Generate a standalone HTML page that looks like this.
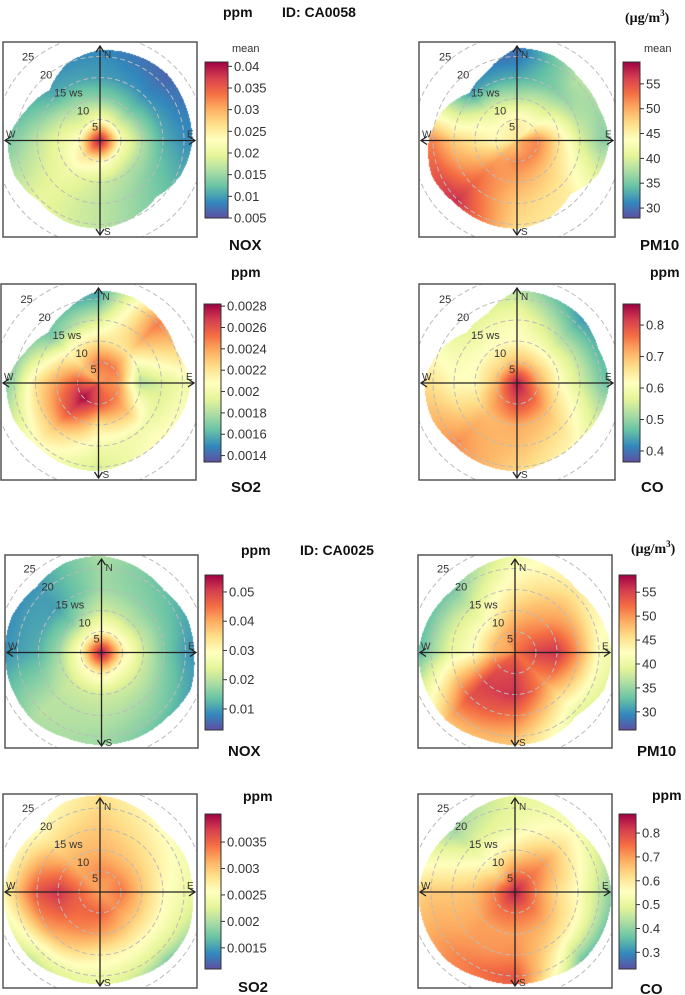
<!DOCTYPE html>
<html><head><meta charset="utf-8">
<style>
html,body{margin:0;padding:0;background:#fff;}
#wrap{position:relative;width:685px;height:995px;overflow:hidden;font-family:"Liberation Sans",sans-serif;}
canvas{position:absolute;}
svg{position:absolute;left:0;top:0;}
</style></head>
<body>
<div id="wrap">
<svg id="ov" width="685" height="995"></svg>
</div>
<script>
// direction order: N, NE, E, SE, S, SW, W, NW ; speed order: 0,5,10,15,20,25 ws
const speeds = [0,5,10,15,20,25];
const noxA = [
 [0.04,0.022,0.014,0.010,0.009,0.008],
 [0.04,0.020,0.013,0.009,0.007,0.006],
 [0.04,0.022,0.016,0.011,0.009,0.009],
 [0.04,0.022,0.016,0.014,0.013,0.013],
 [0.04,0.024,0.018,0.017,0.017,0.017],
 [0.04,0.026,0.021,0.020,0.020,0.020],
 [0.04,0.023,0.020,0.017,0.014,0.012],
 [0.04,0.020,0.016,0.011,0.009,0.008]];
const pm10A = [
 [46,45,38,33,30,30],[46,44,40,36,38,40],[50,52,46,40,36,36],[50,52,48,46,45,44],
 [48,52,50,48,47,46],[48,50,52,54,57,56],[46,44,46,48,52,52],[46,44,40,33,30,30]];
const so2A = [
 [0.0024,0.0025,0.0022,0.0019,0.0016,0.0015],
 [0.0024,0.0025,0.0022,0.0024,0.0025,0.0023],
 [0.0025,0.0024,0.0018,0.0019,0.0020,0.0020],
 [0.0025,0.0025,0.0023,0.0020,0.0021,0.0021],
 [0.0026,0.0026,0.0022,0.0020,0.0019,0.0019],
 [0.0026,0.0028,0.0026,0.0023,0.0021,0.0021],
 [0.0025,0.0026,0.0024,0.0022,0.0018,0.0015],
 [0.0024,0.0023,0.0021,0.0017,0.0016,0.0017]];
const coA = [
 [0.85,0.70,0.62,0.60,0.55,0.50],[0.85,0.70,0.60,0.52,0.45,0.40],
 [0.85,0.72,0.62,0.55,0.48,0.45],[0.85,0.78,0.70,0.66,0.62,0.60],
 [0.85,0.80,0.72,0.70,0.68,0.66],[0.85,0.75,0.70,0.72,0.74,0.74],
 [0.85,0.70,0.62,0.62,0.66,0.68],[0.85,0.68,0.62,0.58,0.55,0.52]];
const noxB = [
 [0.055,0.030,0.022,0.018,0.018,0.020],[0.055,0.030,0.020,0.016,0.014,0.012],
 [0.055,0.032,0.022,0.015,0.010,0.008],[0.055,0.030,0.022,0.018,0.015,0.010],
 [0.055,0.032,0.022,0.020,0.018,0.018],[0.055,0.030,0.022,0.020,0.020,0.018],
 [0.055,0.030,0.018,0.012,0.010,0.008],[0.055,0.028,0.015,0.010,0.010,0.008]];
const pm10B = [
 [52,50,47,44,42,40],[52,52,50,48,45,44],[52,55,56,50,42,40],[52,52,50,45,40,36],
 [53,55,56,52,48,46],[52,54,55,54,50,46],[50,48,42,40,35,30],[50,48,42,38,34,32]];
const so2B = [
 [0.0032,0.0033,0.0031,0.0030,0.0029,0.0028],[0.0032,0.0033,0.0030,0.0028,0.0026,0.0024],
 [0.0032,0.0034,0.0030,0.0026,0.0024,0.0023],[0.0032,0.0033,0.0030,0.0026,0.0022,0.0015],
 [0.0032,0.0035,0.0032,0.0027,0.0024,0.0023],[0.0032,0.0035,0.0034,0.0031,0.0024,0.0019],
 [0.0032,0.0035,0.0038,0.0036,0.0030,0.0024],[0.0032,0.0032,0.0031,0.0029,0.0026,0.0024]];
const coB = [
 [0.85,0.72,0.60,0.52,0.50,0.50],[0.85,0.75,0.70,0.62,0.55,0.50],
 [0.85,0.72,0.62,0.55,0.45,0.35],[0.85,0.75,0.68,0.60,0.45,0.30],
 [0.85,0.75,0.70,0.72,0.78,0.75],[0.85,0.75,0.70,0.70,0.72,0.72],
 [0.85,0.72,0.66,0.65,0.65,0.62],[0.85,0.65,0.55,0.48,0.42,0.38]];
// data extents (max ws) per 16 directions from N clockwise
const extA1 = [21.5,22,22.5,22,22,21,19,20,21,21,20.5,22,22,19,17,20];
const extA2 = [22,22,21,21,22,21,18,20,21,21,21,22,21,19,16,18];
const extA3 = [22,22,21,20,22,21,20,20,21,21,21,22,22,19,17,19];
const extA4 = [22,22,22,21,22,21,20,20,21,21,21,22,22,20,17,18];
const extB1 = [23,22,21,22,22,23,22,22,22,22,23,23,23,23,22,23];
const extB2 = [23,22,21,22,23,23,21,22,22,22,23,23,23,22,21,22];
const extB3 = [23,22,21,22,22,23,23,22,22,22,23,23,23,22,21,23];
const extB4 = [23,22,21,22,23,23,23,22,22,22,23,23,23,22,21,22];
// colorbar tick labels
const ticksNoxA = ['0.04','0.035','0.03','0.025','0.02','0.015','0.01','0.005'];
const ticksPm10 = ['55','50','45','40','35','30'];
const ticksSo2A = ['0.0028','0.0026','0.0024','0.0022','0.002','0.0018','0.0016','0.0014'];
const ticksCoA = ['0.8','0.7','0.6','0.5','0.4'];
const ticksNoxB = ['0.05','0.04','0.03','0.02','0.01'];
const ticksSo2B = ['0.0035','0.003','0.0025','0.002','0.0015'];
const ticksCoB = ['0.8','0.7','0.6','0.5','0.4','0.3'];
// colorbar ranges [min,max]
const rangeNoxA=[0.005,0.041], rangePm10A=[28,59.4], rangeSo2A=[0.00134,0.00282], rangeCoA=[0.365,0.867];
const rangeNoxB=[0.0028,0.0558], rangePm10B=[26.2,58.6], rangeSo2B=[0.0011,0.00403], rangeCoB=[0.23,0.88];

const panels = [
 {name:'nox-ca0058', vals:noxA, ext:extA1, ticks:ticksNoxA, range:rangeNoxA, box:[3,42,194,195], cb:[205,62,23,156], label:'NOX', lx:229, ly:250, mean:true},
 {name:'pm10-ca0058', vals:pm10A, ext:extA2, ticks:ticksPm10, range:rangePm10A, box:[419,42,196,195], cb:[623,62,17,156], label:'PM10', lx:640, ly:250, mean:true},
 {name:'so2-ca0058', vals:so2A, ext:extA3, ticks:ticksSo2A, range:rangeSo2A, box:[1,284,195,196], cb:[204,304,17,158], label:'SO2', lx:231, ly:492},
 {name:'co-ca0058', vals:coA, ext:extA4, ticks:ticksCoA, range:rangeCoA, box:[419,284,196,196], cb:[623,304,17,158], label:'CO', lx:641, ly:492},
 {name:'nox-ca0025', vals:noxB, ext:extB1, ticks:ticksNoxB, range:rangeNoxB, box:[5,555,193,193], cb:[205,575,18,155], label:'NOX', lx:228, ly:756},
 {name:'pm10-ca0025', vals:pm10B, ext:extB2, ticks:ticksPm10, range:rangePm10B, box:[418,555,194,193], cb:[619,575,17,155], label:'PM10', lx:637, ly:756},
 {name:'so2-ca0025', vals:so2B, ext:extB3, ticks:ticksSo2B, range:rangeSo2B, box:[3,794,194,194], cb:[205,814,16,155], label:'SO2', lx:238, ly:992},
 {name:'co-ca0025', vals:coB, ext:extB4, ticks:ticksCoB, range:rangeCoB, box:[418,794,194,194], cb:[619,814,17,155], label:'CO', lx:640, ly:994}
];
const SC = 4.2; // px per ws unit
const stops = ['#5E4FA2','#3288BD','#66C2A5','#ABDDA4','#E6F598','#FFFFBF','#FEE08B','#FDAE61','#F46D43','#D53E4F','#9E0142'];
const stopRGB = stops.map(h=>[parseInt(h.substr(1,2),16),parseInt(h.substr(3,2),16),parseInt(h.substr(5,2),16)]);
function cmap(t){t=Math.max(0,Math.min(1,t));const a=t*10,i=Math.min(9,Math.floor(a)),f=a-i;const c0=stopRGB[i],c1=stopRGB[i+1];return [c0[0]+(c1[0]-c0[0])*f,c0[1]+(c1[1]-c0[1])*f,c0[2]+(c1[2]-c0[2])*f];}
const wrap=document.getElementById('wrap'), ov=document.getElementById('ov');
const NS='http://www.w3.org/2000/svg';
function mk(tag,attrs,parent){const e=document.createElementNS(NS,tag);for(const k in attrs)e.setAttribute(k,attrs[k]);(parent||ov).appendChild(e);return e;}
function txt(x,y,s,attrs,parent){const t=mk('text',Object.assign({x:x,y:y},attrs),parent);t.textContent=s;return t;}

panels.forEach(p=>{
  const [bx,by,bw,bh]=p.box; const cx=bx+bw/2, cy=by+bh/2+1;
  const cv=document.createElement('canvas'); cv.width=bw; cv.height=bh;
  cv.style.left=bx+'px'; cv.style.top=by+'px';
  
  
  wrap.insertBefore(cv, ov);
  const ctx=cv.getContext('2d'); const img=ctx.createImageData(bw,bh);
  const [vmin,vmax]=p.range;
  for(let py=0;py<bh;py++)for(let px=0;px<bw;px++){
    const dx=bx+px+0.5-cx, dy=by+py+0.5-cy;
    const r=Math.hypot(dx,dy)/SC;
    let th=Math.atan2(dx,-dy)*180/Math.PI; if(th<0)th+=360;
    const ea=th/22.5, e0=Math.floor(ea)%16, e1=(e0+1)%16, ef=ea-Math.floor(ea);
    const ext=p.ext[e0]*(1-ef)+p.ext[e1]*ef;
    if(r>ext)continue;
    const a=th/45, i0=Math.floor(a)%8, i1=(i0+1)%8, f=a-Math.floor(a);
    const rr=Math.min(r/5,5), j0=Math.floor(rr), j1=Math.min(j0+1,5), g=rr-j0;
    const v0=p.vals[i0][j0]*(1-g)+p.vals[i0][j1]*g;
    const v1=p.vals[i1][j0]*(1-g)+p.vals[i1][j1]*g;
    const v=v0*(1-f)+v1*f;
    const c=cmap((v-vmin)/(vmax-vmin));
    const k=(py*bw+px)*4; img.data[k]=c[0];img.data[k+1]=c[1];img.data[k+2]=c[2];img.data[k+3]=255;
  }
  ctx.putImageData(img,0,0);
  const g=mk('g',{});
  
  
  const cid='clip-'+p.name;
  const cp=mk('clipPath',{id:cid},g); mk('rect',{x:bx,y:by,width:bw,height:bh},cp);
  const rings=mk('g',{'clip-path':'url(#'+cid+')'},g);
  
  
  [5,10,15,20,25].forEach(s=>mk('circle',{cx:cx,cy:cy,r:s*SC,fill:'none',stroke:'#bbb','stroke-width':1,'stroke-dasharray':'5,3'},rings));
  const ax=mk('g',{stroke:'#222','stroke-width':1.3,fill:'none'},g);
  
  
  mk('line',{x1:bx+2,y1:cy,x2:bx+bw-2,y2:cy},ax);
  mk('line',{x1:cx,y1:by+4,x2:cx,y2:by+bh-2},ax);
  mk('polyline',{points:`${bx+8},${cy-4} ${bx+2},${cy} ${bx+8},${cy+4}`},ax);
  mk('polyline',{points:`${bx+bw-8},${cy-4} ${bx+bw-2},${cy} ${bx+bw-8},${cy+4}`},ax);
  mk('polyline',{points:`${cx-4},${by+10} ${cx},${by+4} ${cx+4},${by+10}`},ax);
  mk('polyline',{points:`${cx-4},${by+bh-8} ${cx},${by+bh-2} ${cx+4},${by+bh-8}`},ax);
  const lab={'font-size':10,fill:'#333'};
  txt(cx+4,by+16,'N',lab,g); txt(cx+4,by+bh-2,'S',lab,g);
  txt(bx+3,cy-3,'W',lab,g); txt(bx+bw-10,cy-3,'E',lab,g);
  const sl={'font-size':11,fill:'#333'};
  txt(cx-78,cy-80,'25',sl,g); txt(cx-60,cy-62,'20',sl,g);
  txt(cx-46,cy-44,'15 ws',sl,g); txt(cx-23,cy-26,'10',sl,g); txt(cx-8,cy-10,'5',sl,g);
  mk('rect',{x:bx,y:by,width:bw,height:bh,fill:'none',stroke:'#555','stroke-width':1.5},g);
  const [kx,ky,kw,kh]=p.cb; const gid='grad-'+p.name;
  const lg=mk('linearGradient',{id:gid,x1:0,y1:1,x2:0,y2:0},g);
  stops.forEach((s,i)=>mk('stop',{offset:(i/10),'stop-color':s},lg));
  const cb=mk('rect',{x:kx,y:ky,width:kw,height:kh,fill:'url(#'+gid+')',stroke:'#333','stroke-width':1},g);
  
  
  p.ticks.forEach(t=>{
    const v=parseFloat(t); const y=ky+kh-(v-vmin)/(vmax-vmin)*kh;
    mk('line',{x1:kx+kw,y1:y,x2:kx+kw+4,y2:y,stroke:'#333'},g);
    const tl=txt(kx+kw+6,y+4.5,t,{'font-size':13,fill:'#333'},g);
    
    
  });
  if(p.mean){ txt(kx+kw+4,ky-10,'mean',{'font-size':11,fill:'#333'},g); }
  const pl=txt(p.lx,p.ly,p.label,{'font-size':15,'font-weight':'bold',fill:'#111'},g);
  
  
});
function unitPpm(x,y){const t=txt(x,y,'ppm',{'font-size':14,'font-weight':'bold',fill:'#111'});

}
function unitUg(x,y){const t=mk('text',{x:x,y:y,'font-size':14,'font-weight':'bold','font-family':'"Liberation Serif",serif',fill:'#111'});


t.textContent='(μg/m'; const s=mk('tspan',{dy:-6,'font-size':9},t); s.textContent='3'; const e=mk('tspan',{dy:6},t); e.textContent=')';}
unitPpm(223,17); unitUg(625,22); unitPpm(231,277); unitPpm(650,277);
unitPpm(241,555); unitUg(631,553); unitPpm(243,801); unitPpm(652,800);
const id1=txt(282,17,'ID: CA0058',{'font-size':14,'font-weight':'bold',fill:'#111'});


const id2=txt(300,555,'ID: CA0025',{'font-size':14,'font-weight':'bold',fill:'#111'});


</script>
</body></html>
